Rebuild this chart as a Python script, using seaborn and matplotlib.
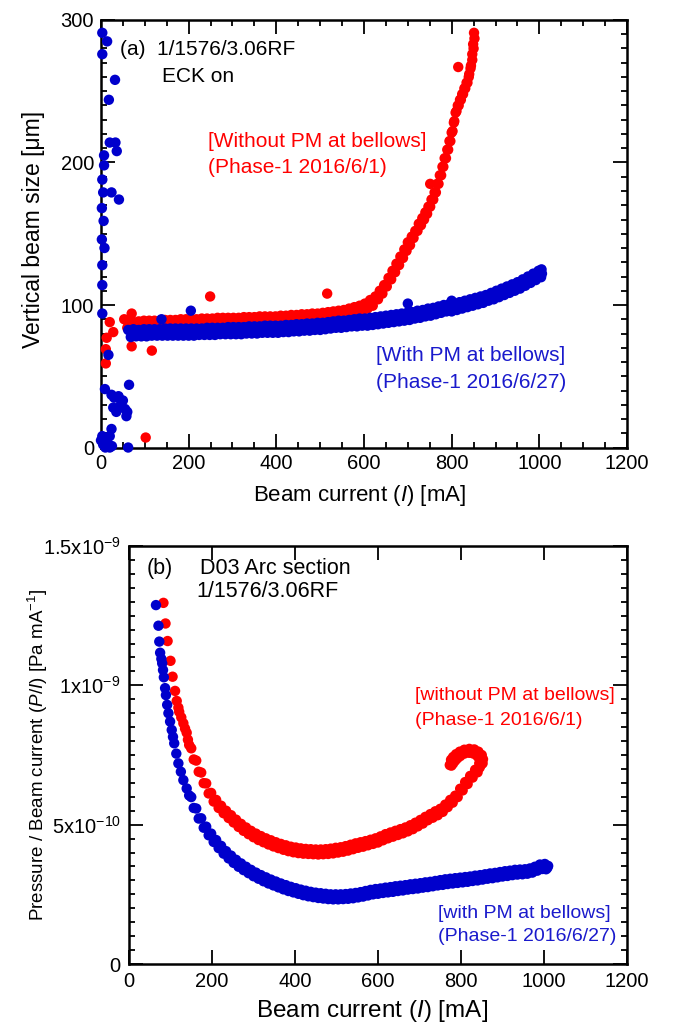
import numpy as np
import pandas as pd
import matplotlib
matplotlib.use("Agg")
import matplotlib.pyplot as plt
import seaborn as sns
from matplotlib.ticker import MultipleLocator, FixedLocator, FixedFormatter

# ================= panel (a): vertical beam size [um] vs beam current [mA] =================
# red: without PM at bellows -- scattered low-current points
red_a_sc_x = [11, 11, 20, 28, 53, 60, 70, 70, 102, 116, 249, 516, 751, 815, 13]
red_a_sc_y = [69, 59, 88, 81, 90, 84, 94, 71, 7, 68, 106, 108, 185, 267, 77]
# red: main band
red_a_x = [62, 68, 74, 80, 86, 92, 98, 104, 110, 116, 122, 128, 134, 140, 146, 152, 158, 164, 170, 176,
           182, 188, 194, 200, 206, 212, 218, 224, 230, 236, 242, 248, 254, 260, 266, 272, 278, 284, 290,
           296, 302, 308, 314, 320, 326, 332, 338, 344, 350, 356, 362, 368, 374, 380, 386, 392, 398, 404,
           410, 416, 422, 428, 434, 440, 446, 452, 458, 464, 470, 476, 482, 488, 494, 500, 506, 512, 518,
           524, 530, 536, 542, 548, 554, 560, 566, 572, 578, 584, 590, 596, 602, 608, 614, 620, 626,
           632, 636, 642, 646, 652, 656, 662, 665, 671, 674, 680, 683, 689, 692, 697, 700, 705, 709, 713,
           717, 722, 725, 730, 733, 737, 740, 744, 747, 751, 754, 758, 761, 764, 767, 770, 773, 776, 779,
           781, 784, 787, 790, 792, 795, 797, 800, 802, 805, 806, 809, 811, 814, 816, 819, 821, 824, 826,
           829, 831, 834, 836, 839, 840, 843, 844, 847, 847, 850, 849, 852, 851]
red_a_y = [88, 83, 88, 83.5, 88.5, 83.5, 89, 84, 89, 84, 89, 84, 89, 84.5, 89.5, 84.5, 89.5, 84.5, 89.5, 85,
           90, 85, 90, 85, 90, 85, 90, 85.5, 90.5, 85.5, 90.5, 85.5, 90.5, 86, 91, 86, 91, 86, 91,
           86, 91, 86, 91, 86.5, 91.5, 86.5, 91.5, 86.5, 91.5, 87, 92, 87, 92, 87, 92, 87, 92, 87,
           92.5, 87.5, 92.5, 87.5, 93, 88, 93, 88, 93.5, 88.5, 93.5, 89, 94, 89, 94, 89, 94.5, 89.5, 95,
           90, 95.5, 90.5, 96, 91, 96.5, 92, 97.5, 93, 98.5, 94, 99.5, 95.5, 101, 97.5, 103.5, 99.5, 106,
           104, 110, 108, 114, 113, 119, 118, 124, 123, 129, 128, 134, 133, 139, 138, 144, 142, 148, 147,
           152, 152, 157, 156, 161, 160, 165, 164, 169, 169, 174, 174, 179, 179, 185, 185, 191, 191, 197,
           197, 203, 203, 209, 209, 215, 215, 221, 222, 228, 229, 235, 236, 240, 240, 244, 244, 248, 248,
           252, 252, 256, 256, 260, 262, 266, 268, 272, 276, 280, 283, 287, 291]

# blue: with PM at bellows -- scattered low-current points and outliers
blue_a_sc_x = [3, 14, 3, 32, 18, 20, 33, 36, 7, 7, 3, 5, 24, 41, 2, 6, 2, 8, 3, 3, 3, 17, 9, 64,
               24, 30, 40, 50, 28, 35, 45, 55, 60, 58, 24, 20, 0, 5, 10, 15, 20, 25, 62, 3, 138, 205, 700, 800]
blue_a_sc_y = [291, 285, 276, 258, 244, 214, 214, 208, 205, 198, 188, 179, 179, 174, 168, 159, 146, 140, 128,
               114, 94, 65, 41, 44, 37, 35, 36, 33, 28, 25, 30, 27, 25, 22, 13, 8, 5, 2, 0, 3, 0, 1, 0, 8,
               90, 96, 101, 103]
# blue: main band
blue_a_x = [62, 68, 74, 80, 86, 92, 98, 104, 110, 116, 122, 128, 134, 140, 146, 152, 158, 164, 170, 176,
            182, 188, 194, 200, 206, 212, 218, 224, 230, 236, 242, 248, 254, 260, 266, 272, 278, 284, 290,
            296, 302, 308, 314, 320, 326, 332, 338, 344, 350, 356, 362, 368, 374, 380, 386, 392, 398, 404,
            410, 416, 422, 428, 434, 440, 446, 452, 458, 464, 470, 476, 482, 488, 494, 500, 506, 512, 518,
            524, 530, 536, 542, 548, 554, 560, 566, 572, 578, 584, 590, 596, 602, 608, 614, 620, 626, 632,
            638, 644, 650, 656, 662, 668, 674, 680, 686, 692, 698, 704, 710, 716, 722, 728, 734, 740, 746,
            752, 758, 764, 770, 776, 782, 788, 794, 800, 806, 812, 818, 824, 830, 836, 842, 848, 854, 860,
            866, 872, 878, 884, 890, 896, 902, 908, 914, 920, 926, 932, 938, 944, 950, 956, 962, 968, 974,
            980, 986, 992, 998, 1004, 1005, 1002, 1006]
blue_a_y = [82.5, 77.5, 83, 78, 82.5, 78, 83, 78, 83, 78.5, 83, 78.5, 83, 78.5, 83.5, 78.5, 83.5, 78.5, 83.5,
            78.5, 83.5, 78.5, 83.5, 78.5, 83.5, 78.5, 83.5, 79, 83.5, 79, 84, 79, 84, 79, 84, 79.5, 84, 79.5,
            84.5, 79.5, 84.5, 79.5, 84.5, 79.5, 84.5, 80, 85, 80, 85, 80, 85, 80.5, 85.5, 80.5, 85.5, 80.5,
            85.5, 80.5, 85.5, 81, 86, 81, 86, 81.5, 86.5, 81.5, 86.5, 82, 87, 82, 87, 82.5, 87.5, 82.5, 87.5,
            83, 88, 83.5, 88.5, 84, 89, 84, 89, 84.5, 89.5, 85, 90, 85, 90.5, 85.5, 90.5, 85.5, 91, 86, 91.5,
            86.5, 92, 87, 92.5, 87.5, 93, 88, 93.5, 88.5, 94, 89, 94.5, 89.5, 95, 90.5, 96, 91, 96.5, 92, 97.5,
            92.5, 98, 93.5, 99, 94.5, 100, 95.5, 100.5, 95.5, 101, 96.5, 102, 97.5, 103, 98.5, 104, 99.5, 105,
            100.5, 106, 101.5, 107, 103, 108.5, 104, 110, 105.5, 111.5, 107, 113, 108.5, 114.5, 110, 116,
            111.5, 118, 113.5, 120, 115.5, 122, 117.5, 124, 119.5, 125, 121, 122]

# ================= panel (b): pressure / beam current, in units of 1e-10 Pa/mA =================
red_b_x = [83, 88, 93, 100, 105, 111, 115, 119, 121, 126, 131, 135, 139, 142, 145,
           150, 156, 162, 168, 174, 180, 186, 192, 198, 204, 210, 216, 222, 228, 234, 240, 246, 252, 258,
           264, 270, 276, 282, 288, 294, 300, 306, 312, 318, 324, 330, 336, 342, 348, 354, 360, 366, 372,
           378, 384, 390, 396, 402, 408, 414, 420, 426, 432, 438, 444, 450, 456, 462, 468, 474, 480, 486,
           492, 498, 504, 510, 516, 522, 528, 534, 540, 546, 552, 558, 564, 570, 576, 582, 588, 594, 600,
           606, 612, 618, 624, 630, 636, 642, 648, 654, 660, 666, 672, 678, 684, 690, 696, 702, 708, 714,
           720, 726, 732, 738, 744, 750, 756, 762, 768, 774, 780, 786, 792, 798, 804, 810, 816, 822, 828,
           834, 840,
           845, 848, 850, 850, 848, 844, 838, 832, 826, 820, 814, 808, 802, 796, 790, 785, 780, 776, 773,
           852, 853, 850, 842, 832, 820, 808, 797, 788, 781, 776,
           844, 845, 840, 830, 820, 808, 798, 791, 786, 781, 777]
red_b_y = [12.96, 12.22, 11.59, 10.88, 10.31, 9.80, 9.44, 9.20, 9.05, 8.85, 8.64, 8.45, 8.30, 8.05, 7.86,
           7.74, 7.34, 7.30, 6.90, 6.87, 6.49, 6.48, 6.12, 6.14, 5.83, 5.89, 5.60, 5.68, 5.41, 5.50, 5.24,
           5.34, 5.08, 5.18, 4.92, 5.03, 4.78, 4.90, 4.66, 4.78, 4.55, 4.68, 4.45, 4.59, 4.37, 4.51, 4.29,
           4.44, 4.22, 4.37, 4.16, 4.31, 4.10, 4.26, 4.05, 4.21, 4.01, 4.18, 3.98, 4.15, 3.96, 4.13, 3.95,
           4.12, 3.94, 4.11, 3.93, 4.11, 3.94, 4.12, 3.95, 4.14, 3.97, 4.17, 4.00, 4.19, 4.03, 4.23, 4.07,
           4.28, 4.12, 4.33, 4.17, 4.37, 4.21, 4.41, 4.26, 4.46, 4.31, 4.51, 4.36, 4.58, 4.44, 4.66, 4.51,
           4.72, 4.57, 4.78, 4.63, 4.84, 4.69, 4.90, 4.76, 4.98, 4.84, 5.07, 4.94, 5.17, 5.04, 5.28, 5.16,
           5.38, 5.25, 5.48, 5.34, 5.57, 5.46, 5.72, 5.63, 5.89, 5.79, 6.04, 5.99, 6.29, 6.23, 6.53, 6.46,
           6.75, 6.69, 6.97, 6.88,
           7.05, 7.15, 7.25, 7.35, 7.45, 7.52, 7.58, 7.62, 7.64, 7.65, 7.64, 7.62, 7.58, 7.53, 7.46, 7.38,
           7.30, 7.22, 7.14,
           7.20, 7.35, 7.50, 7.62, 7.70, 7.72, 7.69, 7.62, 7.53, 7.43, 7.33,
           7.20, 7.35, 7.45, 7.55, 7.58, 7.55, 7.46, 7.38, 7.30, 7.20, 7.12]

blue_b_x = [65, 71, 73, 75, 78, 80, 82, 84, 87, 89, 92, 95, 99, 103, 106, 109, 114, 119, 125, 131, 139, 145,
            150, 156, 162, 168, 174, 180, 186, 192, 198, 204, 210, 216, 222, 228, 234, 240, 246, 252, 258,
            264, 270, 276, 282, 288, 294, 300, 306, 312, 318, 324, 330, 336, 342, 348, 354, 360, 366, 372,
            378, 384, 390, 396, 402, 408, 414, 420, 426, 432, 438, 444, 450, 456, 462, 468, 474, 480, 486,
            492, 498, 504, 510, 516, 522, 528, 534, 540, 546, 552, 558, 564, 570, 576, 582, 588, 594, 600,
            606, 612, 618, 624, 630, 636, 642, 648, 654, 660, 666, 672, 678, 684, 690, 696, 702, 708, 714,
            720, 726, 732, 738, 744, 750, 756, 762, 768, 774, 780, 786, 792, 798, 804, 810, 816, 822, 828,
            834, 840, 846, 852, 858, 864, 870, 876, 882, 888, 894, 900, 906, 912, 918, 924, 930, 936, 942,
            948, 954, 960, 966, 972, 978, 984, 990, 996, 1002, 1005, 1008, 1010, 1000, 995]
blue_b_y = [12.88, 12.14, 11.57, 11.17, 10.95, 10.79, 10.55, 10.29, 9.90, 9.65, 9.30, 9.00, 8.70, 8.40, 8.15,
            7.92, 7.55, 7.20, 6.90, 6.60, 6.30, 6.05,
            5.99, 5.60, 5.58, 5.22, 5.23, 4.89, 4.93, 4.62, 4.68, 4.38, 4.45, 4.16, 4.24, 3.96, 4.05, 3.79,
            3.89, 3.63, 3.74, 3.49, 3.61, 3.37, 3.49, 3.26, 3.38, 3.15, 3.28, 3.06, 3.19, 2.97, 3.11, 2.89,
            3.03, 2.82, 2.96, 2.75, 2.89, 2.68, 2.83, 2.62, 2.77, 2.57, 2.72, 2.52, 2.67, 2.47, 2.63, 2.43,
            2.59, 2.40, 2.56, 2.37, 2.54, 2.35, 2.52, 2.33, 2.50, 2.32, 2.50, 2.32, 2.50, 2.33, 2.51, 2.34,
            2.53, 2.36, 2.55, 2.39, 2.58, 2.42, 2.62, 2.46, 2.66, 2.50, 2.69, 2.52, 2.71, 2.55, 2.74, 2.57,
            2.76, 2.59, 2.79, 2.62, 2.81, 2.64, 2.83, 2.67, 2.86, 2.69, 2.88, 2.71, 2.90, 2.74, 2.93, 2.76,
            2.95, 2.79, 2.98, 2.82, 3.01, 2.84, 3.04, 2.87, 3.06, 2.89, 3.08, 2.91, 3.10, 2.93, 3.12, 2.95,
            3.14, 2.98, 3.17, 3.00, 3.19, 3.03, 3.22, 3.06, 3.25, 3.08, 3.27, 3.11, 3.30, 3.14, 3.33, 3.16,
            3.35, 3.19, 3.38, 3.21, 3.39, 3.22, 3.40, 3.24, 3.43, 3.28, 3.49, 3.35, 3.57, 3.41, 3.59,
            3.40, 3.45, 3.52, 3.56, 3.42]

RED = "#ff0000"
BLUE = "#0000cc"
TXT_BLUE = "#1a1acc"

sns.set_theme(style="ticks")
plt.rcParams["font.family"] = ["Liberation Sans", "DejaVu Sans"]
plt.rcParams["mathtext.fontset"] = "custom"
plt.rcParams["mathtext.rm"] = "Liberation Sans"
plt.rcParams["mathtext.it"] = "Liberation Sans:italic"
for k in ("text.color", "axes.labelcolor", "xtick.color", "ytick.color", "axes.edgecolor"):
    plt.rcParams[k] = "black"

fig = plt.figure(figsize=(6.75, 10.25), dpi=100)
ax1 = fig.add_axes([0.1496, 0.5634, 0.7793, 0.4171])
ax2 = fig.add_axes([0.1911, 0.0595, 0.7378, 0.4078])

df_a = pd.concat([
    pd.DataFrame({"I": red_a_sc_x + red_a_x, "v": red_a_sc_y + red_a_y, "s": "red"}),
    pd.DataFrame({"I": blue_a_sc_x + blue_a_x, "v": blue_a_sc_y + blue_a_y, "s": "blue"}),
])
df_b = pd.concat([
    pd.DataFrame({"I": red_b_x, "v": np.array(red_b_y) * 1e-10, "s": "red"}),
    pd.DataFrame({"I": blue_b_x, "v": np.array(blue_b_y) * 1e-10, "s": "blue"}),
])

for ax, df in ((ax1, df_a), (ax2, df_b)):
    sns.scatterplot(data=df, x="I", y="v", hue="s", palette={"red": RED, "blue": BLUE},
                    s=56, linewidth=0, legend=False, ax=ax, clip_on=False, zorder=3)

tick_kw = dict(direction="in", top=True, right=True, width=1.3)

# ---- panel (a) ----
ax1.set_xlim(0, 1200)
ax1.set_ylim(0, 300)
ax1.xaxis.set_major_locator(MultipleLocator(200))
ax1.xaxis.set_minor_locator(MultipleLocator(50))
ax1.yaxis.set_major_locator(MultipleLocator(100))
ax1.yaxis.set_minor_locator(MultipleLocator(10))
ax1.tick_params(which="major", length=10, labelsize=14.5, pad=5, **tick_kw)
ax1.tick_params(which="minor", length=4, **tick_kw)
ax1.set_xlabel(r"Beam current ($\mathit{I}$) [mA]", fontsize=16)
ax1.set_ylabel("Vertical beam size [μm]", fontsize=16.5)
ax1.xaxis.set_label_coords(0.492, -0.082)
ax1.yaxis.set_label_coords(-0.107, 0.509)
ax1.text(43, 279, "(a)  1/1576/3.06RF", fontsize=15, va="center")
ax1.text(139, 260, "ECK on", fontsize=15, va="center")
ax1.text(244, 214.5, "[Without PM at bellows]", fontsize=15, color=RED, va="center")
ax1.text(244, 196.5, "(Phase-1 2016/6/1)", fontsize=15, color=RED, va="center")
ax1.text(627, 64.6, "[With PM at bellows]", fontsize=15, color=TXT_BLUE, va="center")
ax1.text(627, 45.5, "(Phase-1 2016/6/27)", fontsize=15, color=TXT_BLUE, va="center")

# ---- panel (b) ----
ax2.set_xlim(0, 1200)
ax2.set_ylim(0, 1.5e-9)
ax2.xaxis.set_major_locator(MultipleLocator(200))
ax2.yaxis.set_major_locator(FixedLocator([0, 5e-10, 1e-9, 1.5e-9]))
ax2.yaxis.set_major_formatter(FixedFormatter(["0", r"5x10$^{\mathregular{-10}}$",
                                              r"1x10$^{\mathregular{-9}}$",
                                              r"1.5x10$^{\mathregular{-9}}$"]))
ax2.yaxis.set_minor_locator(MultipleLocator(0.5e-10))
ax2.tick_params(which="major", length=10, labelsize=14.5, pad=6, **tick_kw)
ax2.tick_params(which="minor", length=4, **tick_kw)
ax2.tick_params(axis="x", which="minor", length=0)
ax2.set_xlabel(r"Beam current ($\mathit{I}$) [mA]", fontsize=17.5)
ax2.set_ylabel(r"Pressure / Beam current ($\mathit{P/I}$) [Pa mA$^{\mathregular{-1}}$]", fontsize=13.5)
ax2.xaxis.set_label_coords(0.488, -0.082)
ax2.yaxis.set_label_coords(-0.158, 0.5)
ax2.text(43, 14.2e-10, "(b)", fontsize=15.5, va="center")
ax2.text(171, 14.2e-10, "D03 Arc section", fontsize=15.5, va="center")
ax2.text(163, 13.36e-10, "1/1576/3.06RF", fontsize=15.5, va="center")
ax2.text(689, 9.65e-10, "[without PM at bellows]", fontsize=14, color=RED, va="center")
ax2.text(689, 8.75e-10, "(Phase-1 2016/6/1)", fontsize=14, color=RED, va="center")
ax2.text(745, 1.82e-10, "[with PM at bellows]", fontsize=14, color=TXT_BLUE, va="center")
ax2.text(745, 0.98e-10, "(Phase-1 2016/6/27)", fontsize=14, color=TXT_BLUE, va="center")

for ax in (ax1, ax2):
    for sp in ax.spines.values():
        sp.set_color("black")
        sp.set_linewidth(1.8)

fig.savefig("out.png", dpi=100)
